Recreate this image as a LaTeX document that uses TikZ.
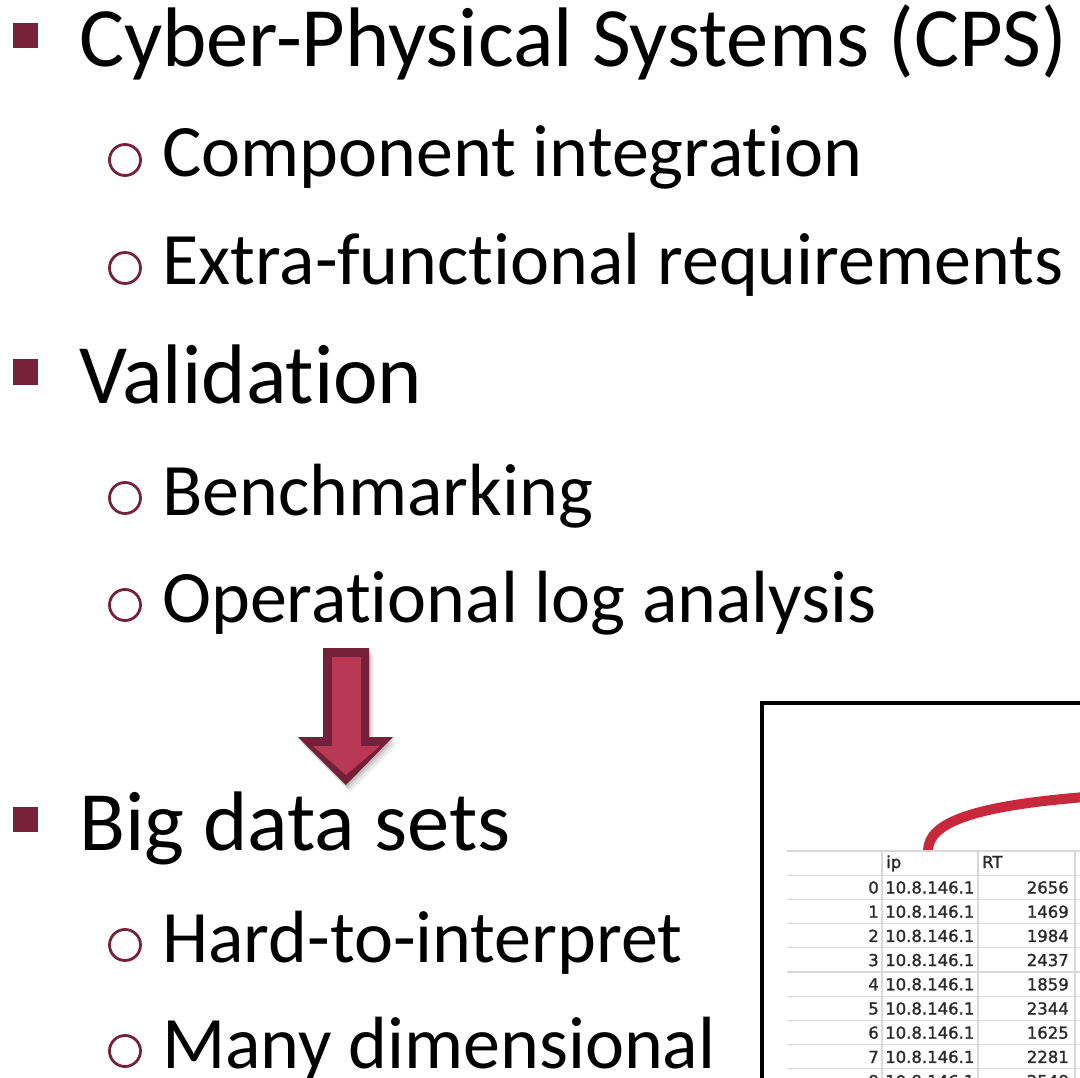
\documentclass[tikz,border=0pt]{standalone}
\usepackage{fontspec}
\setmainfont{Carlito}[Ligatures={NoCommon}]
\newfontfamily\tablefont{DejaVu Sans}[FakeBold=1.3]
\definecolor{bulletc}{HTML}{76233A}
\definecolor{arrowdark}{HTML}{74203A}
\definecolor{arrowfill}{HTML}{B93855}
\definecolor{curvered}{HTML}{C8283C}
\definecolor{gridc}{HTML}{D8D8D8}
\definecolor{celltext}{HTML}{2A2A2A}
\tikzset{
  lvlone/.style={anchor=base west, inner sep=0pt, font=\fontsize{84.5}{100}\selectfont},
  lvltwo/.style={anchor=base west, inner sep=0pt, font=\fontsize{74}{90}\selectfont},
  sqbullet/.style={rectangle, fill=bulletc, minimum size=25pt, inner sep=0pt},
  circbullet/.style={circle, draw=bulletc, line width=2.8pt, minimum size=31pt, inner sep=0pt},
  celltxt/.style={inner sep=0pt, text=celltext, font=\tablefont\fontsize{16.5}{18}\selectfont},
  gridline/.style={draw=gridc, line width=1.2pt},
}
\begin{document}
\begin{tikzpicture}[x=1pt,y=-1pt]
\useasboundingbox (0,0) rectangle (1080,1078);
\clip (0,0) rectangle (1080,1078);
\fill[white] (0,0) rectangle (1080,1078);

% ---- level 1 items
\node[sqbullet] (b1) at (25.5,36) {};
\node[lvlone] (t1) at (79,67) {Cyber-Physical Systems (CPS)};
\node[sqbullet] (b2) at (25.5,372) {};
\node[lvlone] (t2) at (79,403) {Validation};
\node[sqbullet] (b3) at (25.5,819) {};
\node[lvlone] (t3) at (79,850) {Big data sets};

% ---- level 2 items
\node[circbullet] (c1) at (125,160) {};
\node[lvltwo] (s1) at (162,177) {Component integration};
\node[circbullet] (c2) at (125,268) {};
\node[lvltwo] (s2) at (162,285) {Extra-functional requirements};
\node[circbullet] (c3) at (125,498) {};
\node[lvltwo] (s3) at (162,515) {Benchmarking};
\node[circbullet] (c4) at (125,605) {};
\node[lvltwo] (s4) at (162,622) {Operational log analysis};
\node[circbullet] (c5) at (125,945) {};
\node[lvltwo] (s5) at (162,962) {Hard-to-interpret};
\node[circbullet] (c6) at (125,1051) {};
\node[lvltwo] (s6) at (162,1068) {Many dimensional};

% ---- block arrow (down)
\foreach \o/\op in {2/0.10,4/0.08,6/0.06,8/0.04}{
  \fill[black, opacity=\op] ([shift={(\o*0.6,\o)}]323,648) -- ++(46,0) -- ++(0,89) -- ++(24,0)
     -- ++(-47,48) -- ++(-48,-48) -- ++(25,0) -- cycle;
}
\fill[arrowdark] (323,648) -- (369,648) -- (369,737) -- (393,737) -- (346,785)
  -- (298,737) -- (323,737) -- cycle;
\fill[arrowfill] (332,657) -- (361,657) -- (361,746) -- (380,746) -- (346,775)
  -- (313,746) -- (332,746) -- cycle;

% ---- screenshot of the log table
\draw[black, line width=4pt] (762,1082) -- (762,702.5) -- (1084,702.5);
\draw[curvered, line width=10pt] (928,851) .. controls (928,822) and (975,806) .. (1085,797);

\foreach \k in {0,...,10}{
  \draw[gridline] (787,851+24.2*\k) -- (1080,851+24.2*\k);
}
\foreach \xx in {882,978,1075}{
  \draw[gridline] (\xx,851) -- (\xx,1080);
}
\node[celltxt, anchor=base west] (hip) at (886,868) {ip};
\node[celltxt, anchor=base west] (hrt) at (982,868) {RT};

\foreach \k/\v in {0/2656,1/1469,2/1984,3/2437,4/1859,5/2344,6/1625,7/2281,8/2548}{
  \node[celltxt, anchor=base east] (i\k) at (879,893.5+24.2*\k) {\k};
  \node[celltxt, anchor=base west] (p\k) at (885,893.5+24.2*\k) {10.8.146.1};
  \node[celltxt, anchor=base east] (r\k) at (1069,893.5+24.2*\k) {\v};
}
\end{tikzpicture}
\end{document}
